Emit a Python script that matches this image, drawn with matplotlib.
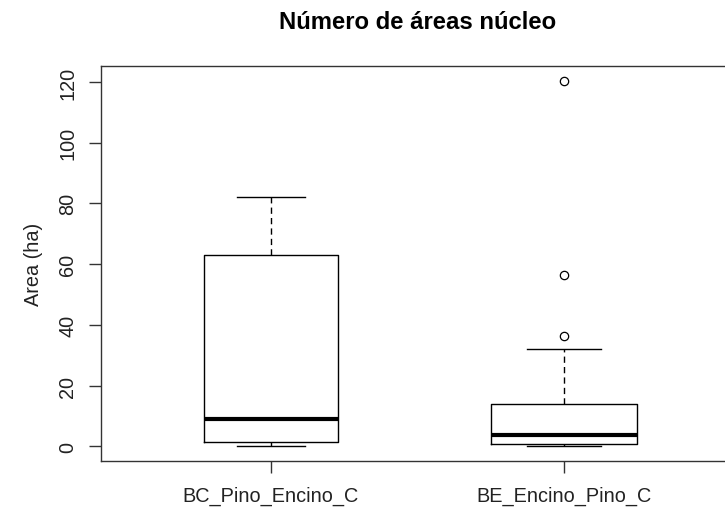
import matplotlib
matplotlib.use("Agg")
import matplotlib.pyplot as plt

plt.rcParams["font.family"] = ["Liberation Sans", "DejaVu Sans"]

# ---- datos (resumen de cinco números por grupo) ----
grupos = ["BC_Pino_Encino_C", "BE_Encino_Pino_C"]
minimo = [0.0, 0.0]
q1 = [1.3, 0.9]
mediana = [8.9, 3.6]
q3 = [63.0, 14.1]
maximo = [82.0, 31.9]
atipicos = [[], [36.3, 56.3, 120.2]]

stats = []
for i, g in enumerate(grupos):
    stats.append({
        "label": g,
        "whislo": minimo[i], "q1": q1[i], "med": mediana[i],
        "q3": q3[i], "whishi": maximo[i], "fliers": atipicos[i],
    })

fig = plt.figure(figsize=(7.25, 5.10), dpi=100)
# el gráfico original de R está recortado por la derecha
ax = fig.add_axes([0.1393, 0.0941, 0.8731, 0.7755])

ax.bxp(
    stats, positions=[1, 2], widths=[0.457, 0.50], capwidths=[0.232, 0.25],
    boxprops=dict(color="black", linewidth=1.0),
    medianprops=dict(color="black", linewidth=3.0, solid_capstyle="butt"),
    whiskerprops=dict(color="black", linewidth=1.0, linestyle=(0, (4.5, 3))),
    capprops=dict(color="black", linewidth=1.0),
    flierprops=dict(marker="o", markerfacecolor="none", markeredgecolor="black",
                    markersize=6, markeredgewidth=0.9),
)

ax.set_xlim(0.42, 2.58)
ax.set_ylim(-4.82, 125.42)
ax.set_yticks([0, 20, 40, 60, 80, 100, 120])
ax.set_xticks([1, 2])
ax.set_xticklabels(grupos)

for s in ax.spines.values():
    s.set_color("#333333")
    s.set_linewidth(1.0)

ax.tick_params(axis="y", length=8.5, width=1.0, color="#333333", pad=8.5,
               labelsize=14.3, labelcolor="#222222")
ax.tick_params(axis="x", length=8.5, width=1.0, color="#333333", pad=9.5,
               labelsize=14.3, labelcolor="#222222")
for lab in ax.get_yticklabels():
    lab.set_rotation(90)
    lab.set_va("center")

ax.set_ylabel("Area (ha)", fontsize=14.3, color="#222222", labelpad=11)
ax.set_title("Número de áreas núcleo", fontsize=17.2, fontweight="bold", pad=27)

fig.savefig("out.png", dpi=100)
